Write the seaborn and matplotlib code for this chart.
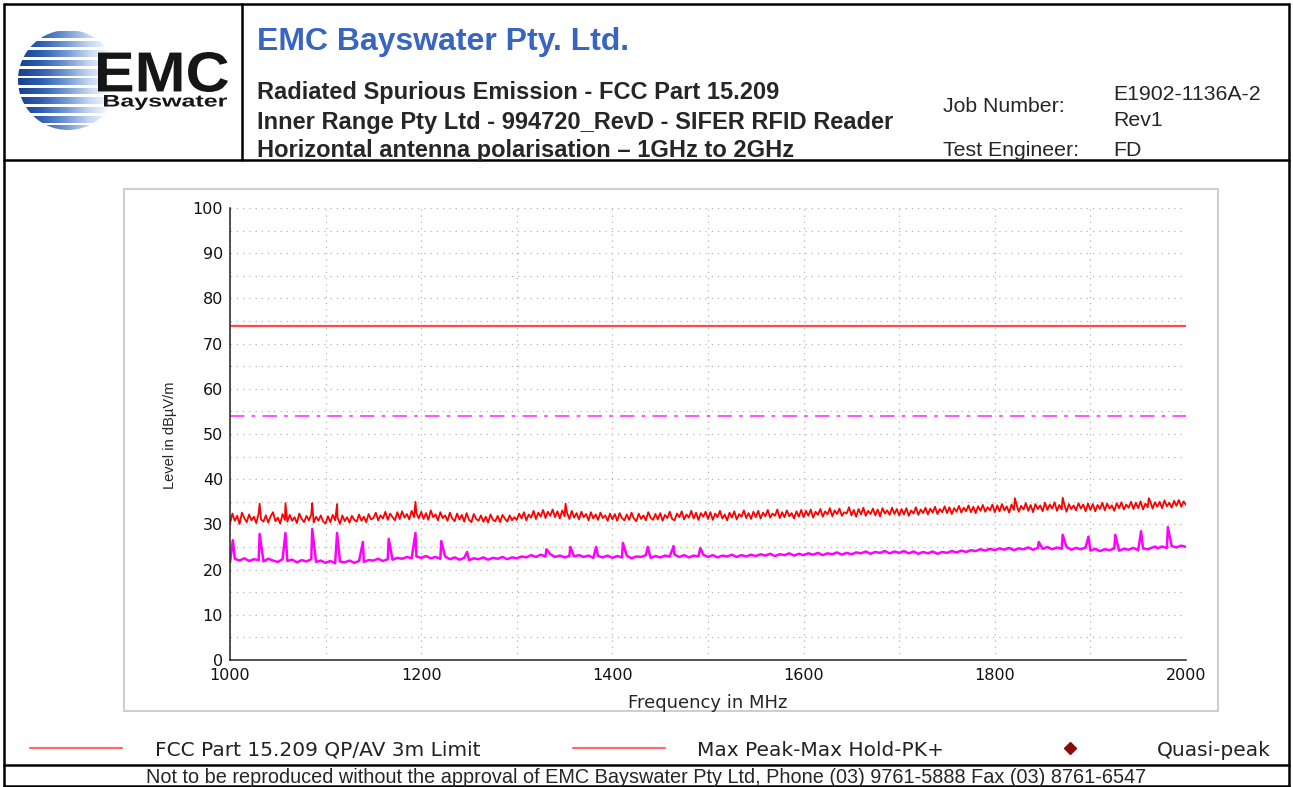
import numpy as np
import pandas as pd
import seaborn as sns
import matplotlib.pyplot as plt
from matplotlib.lines import Line2D
from matplotlib.patches import Rectangle, Circle, PathPatch
from matplotlib.textpath import TextPath
from matplotlib.font_manager import FontProperties
from matplotlib.transforms import Affine2D
from matplotlib.colors import LinearSegmentedColormap

#==============================================================#
# data (MHz / dBuV/m)
#==============================================================#

freq_start, freq_stop = 1000, 2000

# Max Peak - Max Hold - PK+ trace, one value every 2.5 MHz
peak_step = 2.5
peak_trace = [
    30.2, 32.4, 30.8, 31.9, 30.1, 32.6, 31.4, 30.5, 32.2, 30.9, 31.7, 30.3, 32.5, 31.1, 30.6, 32.0, 30.4, 31.8, 32.7, 30.7,
    31.5, 30.2, 32.3, 31.0, 30.6, 32.1, 30.8, 31.6, 30.3, 32.4, 31.2, 30.5, 31.9, 30.9, 32.2, 30.4, 31.7, 30.8, 32.0, 30.6,
    30.2, 31.8, 30.5, 32.1, 30.9, 31.5, 30.1, 32.0, 30.7, 31.6, 30.4, 31.9, 31.0, 30.6, 32.2, 30.8, 31.7, 30.5, 32.3, 31.1,
    31.4, 32.6, 30.9, 32.0, 31.3, 32.8, 31.0, 32.4, 31.6, 30.9, 32.7, 31.2, 32.9, 31.5, 32.3, 31.1, 33.0, 31.6, 32.5, 31.3,
    32.8, 31.2, 32.5, 31.0, 33.1, 31.6, 32.2, 30.9, 32.7, 31.4, 32.0, 30.8, 32.6, 31.3, 30.7, 32.4, 31.1, 32.1, 30.6, 32.5,
    31.0, 30.5, 32.3, 31.2, 30.8, 32.0, 30.6, 31.7, 30.4, 32.2, 31.0, 30.7, 31.9, 30.5, 32.1, 31.3, 30.6, 32.0, 30.9, 31.6,
    31.0, 32.4, 31.3, 32.7, 30.9, 32.2, 31.5, 33.0, 31.2, 32.6, 31.7, 33.2, 31.4, 32.8, 31.9, 33.3, 31.6, 32.9, 31.3, 33.1,
    31.8, 32.6, 31.2, 33.0, 31.5, 32.5, 31.1, 32.8, 31.6, 32.3, 30.9, 32.7, 31.3, 32.2, 31.0, 32.6, 31.4, 32.0, 30.8, 32.4,
    31.1, 32.3, 30.8, 32.5, 31.4, 30.9, 32.2, 31.0, 32.6, 31.3, 30.7, 32.4, 31.2, 32.0, 30.9, 32.7, 31.5, 31.0, 32.3, 31.1,
    32.5, 30.8, 32.1, 31.4, 32.8, 31.2, 30.9, 32.4, 31.6, 32.9, 31.1, 32.2, 31.5, 33.0, 31.3, 32.6, 31.0, 32.5, 31.7, 32.8,
    31.2, 32.7, 31.0, 32.4, 31.6, 33.0, 31.3, 32.2, 30.9, 32.6, 31.5, 32.9, 31.1, 32.3, 31.7, 33.1, 31.4, 32.5, 31.2, 32.8,
    31.6, 33.0, 31.3, 32.6, 31.8, 33.2, 31.5, 32.4, 31.9, 33.3, 31.4, 32.7, 31.6, 33.1, 31.8, 32.5, 31.3, 32.9, 31.7, 33.2,
    31.6, 33.0, 31.9, 33.3, 31.5, 32.8, 32.1, 33.4, 31.7, 32.9, 32.2, 33.6, 31.8, 33.1, 32.3, 33.5, 31.9, 32.7, 32.4, 33.8,
    32.0, 33.2, 31.7, 33.4, 32.2, 33.7, 31.9, 33.0, 32.3, 33.5, 32.0, 33.3, 31.8, 33.6, 32.4, 33.1, 32.1, 33.7, 32.3, 33.4,
    32.0, 33.4, 32.2, 33.6, 31.9, 33.1, 32.4, 33.8, 32.1, 33.3, 32.5, 33.7, 32.2, 33.5, 32.6, 33.9, 32.3, 33.4, 32.7, 34.0,
    32.5, 33.8, 32.3, 33.6, 32.8, 34.1, 32.6, 33.7, 32.9, 34.2, 32.7, 33.9, 32.5, 34.0, 33.0, 34.3, 32.8, 33.8, 33.1, 34.4,
    32.7, 34.2, 32.9, 34.5, 33.1, 34.0, 32.6, 34.4, 33.2, 34.6, 32.8, 34.1, 33.3, 34.7, 33.0, 34.3, 32.7, 34.5, 33.4, 34.2,
    32.9, 34.8, 33.2, 34.4, 33.5, 34.9, 33.0, 34.3, 33.3, 34.6, 32.8, 34.5, 33.4, 34.2, 33.1, 34.7, 33.5, 34.4, 32.9, 34.6,
    33.2, 34.5, 32.9, 34.3, 33.4, 34.8, 33.1, 34.6, 33.5, 34.2, 33.0, 34.7, 33.6, 34.9, 33.3, 34.4, 33.7, 35.0, 33.4, 34.8,
    33.6, 35.1, 33.3, 34.6, 33.8, 35.2, 33.5, 34.9, 33.9, 35.0, 33.6, 35.3, 34.0, 34.8, 33.7, 35.2, 34.1, 35.4, 33.9, 35.1,
    34.3,
]
peak_spike_freq = [1031, 1058, 1086, 1112, 1194, 1351, 1821, 1871, 1961]
peak_spike_level = [34.6, 34.7, 34.7, 34.5, 35.0, 34.6, 35.8, 35.9, 35.8]

# lower (magenta) trace, one value every 5 MHz
avg_step = 5
avg_trace = [
    21.6, 22.4, 22.0, 22.5, 21.9, 22.3, 22.1, 21.8, 22.4, 22.0, 21.7, 22.3, 21.9, 22.2, 21.6, 22.1, 21.8, 22.3, 21.7, 22.0,
    21.5, 21.9, 21.4, 21.8, 21.6, 22.0, 21.5, 21.9, 21.7, 22.1, 22.0, 22.4, 21.9, 22.3, 22.2, 22.6, 22.4, 22.8, 22.5, 22.9,
    22.6, 23.0, 22.5, 22.8, 22.4, 22.9, 22.3, 22.7, 22.2, 22.6, 22.1, 22.5, 22.3, 22.7, 22.2, 22.6, 22.4, 22.8, 22.3, 22.7,
    22.5, 22.9, 22.7, 23.2, 22.8, 23.3, 22.9, 23.4, 22.8, 23.1, 22.7, 23.0, 22.9, 23.2, 22.8, 23.1, 22.6, 23.0, 22.7, 23.1,
    22.6, 23.0, 22.7, 23.1, 22.5, 22.9, 22.8, 23.2, 22.6, 23.0, 22.7, 23.1, 22.9, 23.3, 22.8, 23.2, 22.7, 23.1, 22.9, 23.3,
    22.8, 23.2, 22.7, 23.1, 22.9, 23.3, 22.8, 23.2, 22.9, 23.3, 23.0, 23.4, 23.1, 23.5, 23.0, 23.4, 23.2, 23.6, 23.1, 23.5,
    23.2, 23.6, 23.3, 23.7, 23.2, 23.6, 23.4, 23.8, 23.3, 23.7, 23.4, 23.8, 23.6, 24.0, 23.5, 23.9, 23.7, 24.1, 23.6, 24.0,
    23.7, 24.1, 23.6, 24.0, 23.5, 23.9, 23.6, 24.0, 23.5, 23.9, 23.7, 24.1, 23.8, 24.2, 23.9, 24.3, 24.1, 24.5, 24.2, 24.6,
    24.3, 24.7, 24.4, 24.8, 24.3, 24.7, 24.5, 24.9, 24.4, 24.8, 24.6, 25.0, 24.5, 24.9, 24.6, 25.0, 24.4, 24.8, 24.5, 24.9,
    24.2, 24.6, 24.1, 24.5, 24.3, 24.7, 24.2, 24.6, 24.4, 24.8, 24.3, 24.7, 24.5, 24.9, 24.7, 25.1, 24.8, 25.2, 24.9, 25.3,
    25.0,
]
avg_spike_freq = [1003, 1031, 1058, 1086, 1112, 1139, 1166, 1194, 1221, 1248, 1331, 1356, 1383, 1411,
                  1437, 1464, 1492, 1846, 1871, 1898, 1926, 1953, 1968, 1981]
avg_spike_level = [26.5, 27.9, 28.1, 29.0, 28.1, 26.1, 26.8, 28.1, 26.3, 23.9, 24.5, 25.0, 25.0, 25.9,
                   25.0, 25.2, 24.8, 26.1, 27.7, 27.3, 27.7, 28.5, 25.1, 29.4]

# limit lines
limit_freq = [1000, 2000]
limit_qp = [74, 74]
limit_av = [54, 54]

# header / legend text
company = "EMC Bayswater Pty. Ltd."
title_lines = ["Radiated Spurious Emission - FCC Part 15.209",
               "Inner Range Pty Ltd - 994720_RevD - SIFER RFID Reader",
               "Horizontal antenna polarisation \u2013 1GHz to 2GHz"]
legend_labels = ["FCC Part 15.209 QP/AV 3m Limit", "Max Peak-Max Hold-PK+", "Quasi-peak"]
footer = ("Not to be reproduced without the approval of EMC Bayswater Pty Ltd, "
          "Phone (03) 9761-5888 Fax (03) 8761-6547")


def build_trace(values, step, spike_f, spike_v):
    grid = np.arange(len(values)) * step + freq_start
    df = pd.DataFrame({"freq": np.concatenate([grid, spike_f]),
                       "level": np.concatenate([values, spike_v])})
    return df.sort_values("freq").reset_index(drop=True)


peak_df = build_trace(peak_trace, peak_step, peak_spike_freq, peak_spike_level)
avg_df = build_trace(avg_trace, avg_step, avg_spike_freq, avg_spike_level)

#==============================================================#
# figure
#==============================================================#

sns.set_style("white")
plt.rcParams["font.family"] = ["Liberation Sans", "DejaVu Sans"]

W, H = 1293, 787
fig = plt.figure(figsize=(W / 100, H / 100), dpi=100)


def fx(x):
    return x / W


def fy(y):
    return 1 - y / H


def hline(x0, x1, y, **kw):
    fig.add_artist(Line2D([fx(x0), fx(x1)], [fy(y), fy(y)], transform=fig.transFigure, **kw))


def vline(x, y0, y1, **kw):
    fig.add_artist(Line2D([fx(x), fx(x)], [fy(y0), fy(y1)], transform=fig.transFigure, **kw))


# page frame
frame_kw = dict(color="black", lw=1.8)
hline(4, 1289, 4, **frame_kw)
hline(4, 1289, 160, **frame_kw)
hline(4, 1289, 765, **frame_kw)
hline(4, 1289, 786, **frame_kw)
vline(4, 4, 786, **frame_kw)
vline(1289, 4, 786, **frame_kw)
vline(242, 4, 160, **frame_kw)

# plot area frame (light grey)
fig.add_artist(Rectangle((fx(124), fy(711)), fx(1218 - 124), (711 - 189) / H,
                         transform=fig.transFigure, fill=False, ec="#cfcfcf", lw=1.5))

# header text
fig.text(fx(257), fy(42), company, color="#3865c2", fontsize=23, fontweight="bold", va="center")
for i, line in enumerate(title_lines):
    fig.text(fx(257), fy(93 + 29 * i), line, fontsize=17, fontweight="bold", va="center")
hdr_kw = dict(fontsize=15.3, va="center")
fig.text(fx(943), fy(107), "Job Number:", **hdr_kw)
fig.text(fx(943), fy(151), "Test Engineer:", **hdr_kw)
fig.text(fx(1113), fy(94), "E1902-1136A-2", **hdr_kw)
fig.text(fx(1113), fy(120), "Rev1", **hdr_kw)
fig.text(fx(1113), fy(151), "FD", **hdr_kw)

# logo
lax = fig.add_axes([fx(12), fy(140), fx(222), (140 - 22) / H])
lax.set_xlim(12, 234)
lax.set_ylim(140, 22)
lax.axis("off")
blue = LinearSegmentedColormap.from_list(
    "emc", ["#17408c", "#2f5fb0", "#6f95d2", "#c4d5ef", "#ffffff"])
img = lax.imshow(np.linspace(0, 1, 256)[None, :], extent=(18, 112, 131, 29), cmap=blue,
                 aspect="auto", interpolation="bilinear")
img.set_clip_path(Circle((68, 80), 50, transform=lax.transData))
for yy in np.arange(30, 132, 9.4):
    lax.add_patch(Rectangle((10, yy - 1.4), 120, 2.8, color="white", lw=0))

bold = FontProperties(family="Liberation Sans", weight="bold")


def fit_text(txt, x0, x1, y0, y1):
    tp = TextPath((0, 0), txt, size=50, prop=bold)
    bb = tp.get_extents()
    tr = (Affine2D().translate(-bb.x0, -bb.y0)
          .scale((x1 - x0) / bb.width, -(y1 - y0) / bb.height)
          .translate(x0, y1) + lax.transData)
    lax.add_patch(PathPatch(tp, transform=tr, color="#161616", lw=0))


fit_text("EMC", 98, 228, 52, 92)
fit_text("Bayswater", 104, 227, 95, 110)

#==============================================================#
# chart
#==============================================================#

ax = fig.add_axes([fx(230), fy(660), fx(956), 452 / H])
sns.lineplot(x=limit_freq, y=limit_qp, ax=ax, color="#ff4a4a", lw=1.6)
sns.lineplot(x=limit_freq, y=limit_av, ax=ax, color="#ff44ff", lw=1.3, linestyle=(0, (8, 4, 2, 4)))
sns.lineplot(data=peak_df, x="freq", y="level", ax=ax, color="#ff0000", lw=1.3,
             estimator=None, sort=False)
sns.lineplot(data=avg_df, x="freq", y="level", ax=ax, color="#ff00ff", lw=1.8,
             estimator=None, sort=False)

ax.set_xlim(1000, 2000)
ax.set_ylim(0, 100)
ax.set_xticks(range(1000, 2001, 200))
ax.set_xticks(range(1000, 2001, 100), minor=True)
ax.set_yticks(range(0, 101, 10))
ax.set_yticks(range(0, 101, 5), minor=True)
ax.grid(which="both", ls=(0, (1, 4)), color="#b5b5b5", lw=0.9)
ax.tick_params(which="both", direction="inout", length=8, width=1, color="#222222",
               labelsize=11.5, labelcolor="#111111", labelfontfamily="DejaVu Sans")
ax.tick_params(axis="x", pad=2)
ax.tick_params(axis="y", pad=1)
for s in ["top", "right"]:
    ax.spines[s].set_visible(False)
for s in ["left", "bottom"]:
    ax.spines[s].set_color("#222222")
    ax.spines[s].set_linewidth(1.1)
ax.set_xlabel("")
ax.set_ylabel("")

fig.text(fx(708), fy(703), "Frequency in MHz", fontsize=13, family="DejaVu Sans",
         ha="center", va="center")
fig.text(fx(170), fy(435), "Level in dB\u00b5V/m", fontsize=10.5, rotation=90,
         ha="center", va="center")

# legend strip
hline(30, 122, 748, color="#ff6a6a", lw=1.6)
hline(573, 665, 748, color="#ff6a6a", lw=1.6)
fig.add_artist(Line2D([fx(1070)], [fy(748)], marker="D", ms=6, color="#8b0a0a",
                      transform=fig.transFigure))
leg_kw = dict(fontsize=14.5, family="DejaVu Sans", va="center", color="#222222")
fig.text(fx(155), fy(750), legend_labels[0], **leg_kw)
fig.text(fx(697), fy(750), legend_labels[1], **leg_kw)
fig.text(fx(1271), fy(750), legend_labels[2], ha="right", **leg_kw)

fig.text(fx(646), fy(777.5), footer, fontsize=14.3, ha="center", va="center")

fig.savefig("out.png", dpi=100)
